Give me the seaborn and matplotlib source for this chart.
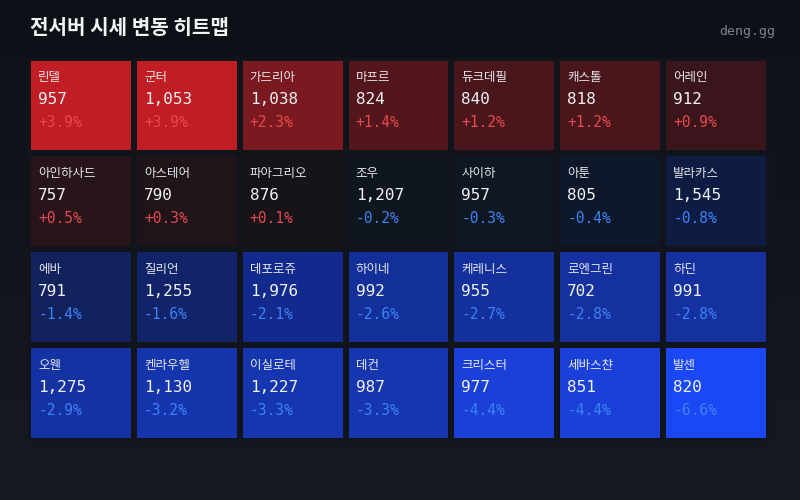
import numpy as np
import matplotlib.pyplot as plt
from matplotlib.colors import LinearSegmentedColormap, TwoSlopeNorm
import seaborn as sns

servers = ['린델', '군터', '가드리아', '마프르', '듀크데필', '캐스톨', '어레인',
           '아인하사드', '아스테어', '파아그리오', '조우', '사이하', '아툰', '발라카스',
           '에바', '질리언', '데포로쥬', '하이네', '케레니스', '로엔그린', '하딘',
           '오웬', '켄라우헬', '이실로테', '데컨', '크리스터', '세바스챤', '발센']
prices = [957, 1053, 1038, 824, 840, 818, 912,
          757, 790, 876, 1207, 957, 805, 1545,
          791, 1255, 1976, 992, 955, 702, 991,
          1275, 1130, 1227, 987, 977, 851, 820]
changes = [3.9, 3.9, 2.3, 1.4, 1.2, 1.2, 0.9,
           0.5, 0.3, 0.1, -0.2, -0.3, -0.4, -0.8,
           -1.4, -1.6, -2.1, -2.6, -2.7, -2.8, -2.8,
           -2.9, -3.2, -3.3, -3.3, -4.4, -4.4, -6.6]
n_cols = 7

plt.rcParams['font.family'] = ['Noto Sans CJK KR', 'DejaVu Sans']

bg_top = '#0d1117'
bg_bottom = '#171a21'
gap_color = '#11141a'
up_color = '#e5484d'
down_color = '#3b82f6'

# colour scale: blue for falls, red for rises, near background at 0
vmin, vmax = -6.6, 3.9
norm = TwoSlopeNorm(vmin=vmin, vcenter=0, vmax=vmax)
stops = [(-6.6, '#1a48f5'), (-4.4, '#1a40d8'), (-3.0, '#1433a4'), (-2.0, '#12288a'),
         (-1.5, '#11235f'), (-0.8, '#0e1c44'), (-0.2, '#0f161e'), (0.0, '#121418'),
         (0.3, '#1e141a'), (0.9, '#3a161c'), (1.4, '#52161c'), (2.3, '#7a1a20'),
         (3.9, '#c01e24')]
cmap = LinearSegmentedColormap.from_list(
    'chg', [(float(norm(v)), c) for v, c in stops])

grid = np.array(changes).reshape(-1, n_cols)

fig = plt.figure(figsize=(8, 5), dpi=100)
bg = fig.add_axes([0, 0, 1, 1], zorder=-1)
bg_cmap = LinearSegmentedColormap.from_list('bg', [bg_top, bg_bottom])
bg.imshow(np.linspace(0, 1, 256).reshape(-1, 1), cmap=bg_cmap, aspect='auto',
          extent=[0, 1, 0, 1])
bg.axis('off')

ax = fig.add_axes([28 / 800, 1 - 441 / 500, 741 / 800, 383.5 / 500])
sns.heatmap(grid, ax=ax, cmap=cmap, norm=norm, cbar=False,
            linewidths=3.1, linecolor=gap_color,
            xticklabels=False, yticklabels=False)

for i, (name, price, chg) in enumerate(zip(servers, prices, changes)):
    r, c = divmod(i, n_cols)
    ax.text(c + 0.095, r + 0.212, name, color='#e6e7ea', fontsize=9,
            va='center', ha='left')
    ax.text(c + 0.095, r + 0.44, f'{price:,}', color='#f0f1f3', fontsize=11.5,
            family='DejaVu Sans Mono', va='center', ha='left')
    ax.text(c + 0.095, r + 0.683, f'{chg:+.1f}%',
            color=up_color if chg > 0 else down_color, fontsize=10.5,
            family='DejaVu Sans Mono', va='center', ha='left')

fig.text(30 / 800, 1 - 27.5 / 500, '전서버 시세 변동 히트맵', color='#f2f3f5',
         fontsize=14.5, fontweight='bold', va='center', ha='left')
fig.text(775 / 800, 1 - 31 / 500, 'deng.gg', color='#7d838c', fontsize=9.5,
         family='DejaVu Sans Mono', va='center', ha='right')

fig.savefig('out.png', dpi=100, facecolor=bg_top)
